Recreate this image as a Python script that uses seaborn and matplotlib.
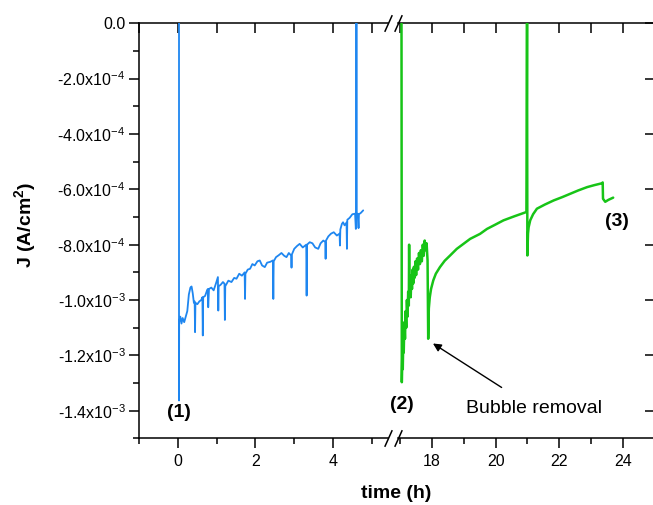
import matplotlib
matplotlib.use("Agg")
import matplotlib.pyplot as plt
from matplotlib.ticker import FixedLocator, NullFormatter
import seaborn as sns
import pandas as pd

# ---------------- data (J in A/cm^2, time in h) ----------------
blue_t = [0.026, 0.026, 0.03, 0.06, 0.09, 0.12, 0.16, 0.20, 0.24, 0.28,
          0.32, 0.35, 0.38, 0.41, 0.43, 0.44, 0.45, 0.50, 0.55, 0.60,
          0.63, 0.64, 0.65, 0.70, 0.75, 0.77, 0.78, 0.80, 0.86, 0.92,
          0.98, 1.03, 1.04, 1.05, 1.10, 1.16, 1.20, 1.21, 1.22, 1.30,
          1.38, 1.45, 1.51, 1.58, 1.65, 1.72, 1.73, 1.74, 1.80, 1.86,
          1.92, 1.98, 2.05, 2.11, 2.17, 2.24, 2.30, 2.38, 2.45, 2.46,
          2.47, 2.53, 2.60, 2.67, 2.74, 2.80, 2.86, 2.92, 2.93, 2.94,
          3.00, 3.07, 3.14, 3.22, 3.31, 3.32, 3.33, 3.40, 3.47, 3.54,
          3.62, 3.68, 3.75, 3.80, 3.81, 3.82, 3.88, 3.95, 4.02, 4.10,
          4.17, 4.18, 4.19, 4.23, 4.26, 4.30, 4.35, 4.36, 4.37, 4.43,
          4.50, 4.57, 4.59, 4.60, 4.605, 4.61, 4.64, 4.66, 4.67, 4.72,
          4.78]
blue_j = [0.02, -1.363, -1.080, -1.060, -1.085, -1.065, -1.080, -1.060, -1.040, -0.980,
          -0.955, -0.951, -0.975, -1.010, -1.005, -1.116, -1.010, -1.015, -1.005, -1.000,
          -0.990, -1.128, -0.990, -0.985, -0.965, -0.960, -1.026, -0.960, -0.955, -0.965,
          -0.940, -0.917, -1.038, -0.950, -0.945, -0.935, -0.941, -1.072, -0.950, -0.930,
          -0.935, -0.920, -0.923, -0.905, -0.912, -0.900, -0.996, -0.905, -0.890, -0.887,
          -0.870, -0.875, -0.860, -0.857, -0.875, -0.881, -0.865, -0.862, -0.857, -0.996,
          -0.860, -0.845, -0.838, -0.830, -0.840, -0.845, -0.830, -0.839, -0.883, -0.835,
          -0.815, -0.805, -0.797, -0.810, -0.800, -0.984, -0.800, -0.791, -0.795, -0.810,
          -0.815, -0.795, -0.785, -0.790, -0.851, -0.785, -0.770, -0.760, -0.755, -0.767,
          -0.760, -0.803, -0.745, -0.725, -0.719, -0.730, -0.720, -0.815, -0.710, -0.703,
          -0.690, -0.688, -0.743, -0.690, 0.02, -0.695, -0.688, -0.740, -0.690, -0.685,
          -0.676]

green_t = [17.04, 17.05, 17.07, 17.08, 17.10, 17.11, 17.13, 17.15, 17.17, 17.19,
           17.21, 17.23, 17.25, 17.27, 17.28, 17.29, 17.31, 17.33, 17.35, 17.37,
           17.39, 17.41, 17.43, 17.45, 17.48, 17.50, 17.53, 17.56, 17.59, 17.62,
           17.65, 17.68, 17.71, 17.74, 17.77, 17.80, 17.83, 17.86, 17.88, 17.90,
           17.93, 17.97, 18.04, 18.12, 18.25, 18.40, 18.57, 18.78, 18.99, 19.20,
           19.51, 19.73, 20.00, 20.25, 20.60, 20.97, 20.99, 21.00, 21.02, 21.04,
           21.09, 21.18, 21.30, 21.55, 21.83, 22.10, 22.35, 22.60, 22.88, 23.10,
           23.35, 23.37, 23.38, 23.45, 23.55, 23.70]
green_j = [0.02, -1.297, -1.170, -1.250, -1.120, -1.190, -1.080, -1.140, -1.040, -1.100,
           -1.000, -1.060, -0.970, -1.020, -0.800, -0.980, -0.930, -0.990, -0.910, -0.960,
           -0.890, -0.940, -0.880, -0.920, -0.860, -0.910, -0.850, -0.890, -0.830, -0.870,
           -0.820, -0.860, -0.800, -0.840, -0.785, -0.820, -0.795, -0.857, -1.140, -1.030,
           -0.990, -0.960, -0.929, -0.905, -0.881, -0.858, -0.839, -0.815, -0.797, -0.779,
           -0.761, -0.743, -0.727, -0.712, -0.697, -0.682, 0.02, -0.839, -0.760, -0.737,
           -0.712, -0.690, -0.670, -0.655, -0.640, -0.628, -0.616, -0.604, -0.592, -0.585,
           -0.578, -0.575, -0.634, -0.645, -0.638, -0.630]

y_ticks = [0.0, -2e-4, -4e-4, -6e-4, -8e-4, -1.0e-3, -1.2e-3, -1.4e-3]
y_labels = ["0.0", "-2.0x10$^{-4}$", "-4.0x10$^{-4}$", "-6.0x10$^{-4}$",
            "-8.0x10$^{-4}$", "-1.0x10$^{-3}$", "-1.2x10$^{-3}$", "-1.4x10$^{-3}$"]
y_minor = [-1e-4, -3e-4, -5e-4, -7e-4, -9e-4, -1.1e-3, -1.3e-3, -1.5e-3]
left_xticks = [0, 2, 4]
left_xminor = [-1, 1, 3, 5]
right_xticks = [18, 20, 22, 24]
right_xminor = [17, 19, 21, 23, 25]

blue_df = pd.DataFrame({"t": blue_t, "J": [v * 1e-3 for v in blue_j]})
green_df = pd.DataFrame({"t": green_t, "J": [v * 1e-3 for v in green_j]})

# ---------------- style ----------------
sns.set_theme(style="ticks")
plt.rcParams["font.family"] = ["Liberation Sans", "DejaVu Sans"]
plt.rcParams["mathtext.fontset"] = "custom"
plt.rcParams["mathtext.rm"] = "Liberation Sans"
plt.rcParams["mathtext.it"] = "Liberation Sans:italic"
plt.rcParams["mathtext.bf"] = "Liberation Sans:bold"
for key in ("text.color", "axes.labelcolor", "xtick.color", "ytick.color",
            "axes.edgecolor", "xtick.labelcolor", "ytick.labelcolor"):
    plt.rcParams[key] = "black"

BLUE = "#1E86F0"
GREEN = "#17C417"
W, H = 653, 505
top_px, bot_px = 23.3, 438.4

fig = plt.figure(figsize=(W / 100, H / 100), dpi=100)
ax1 = fig.add_axes([139.25 / W, (H - bot_px) / H, (388 - 139.25) / W, (bot_px - top_px) / H])
ax2 = fig.add_axes([398 / W, (H - bot_px) / H, (654.5 - 398) / W, (bot_px - top_px) / H])

sns.lineplot(data=blue_df, x="t", y="J", ax=ax1, color=BLUE, lw=1.3,
             sort=False, estimator=None)
sns.lineplot(data=green_df, x="t", y="J", ax=ax2, color=GREEN, lw=1.8,
             sort=False, estimator=None)

for ax in (ax1, ax2):
    ax.set_ylim(-1.5e-3, 0)
    ax.set_xlabel("")
    ax.set_ylabel("")
    for s in ax.spines.values():
        s.set_linewidth(1.1)
        s.set_color("black")

ax1.set_xlim(-1.0, 5.42)
ax2.set_xlim(16.93, 25)

ax1.spines["right"].set_visible(False)
ax2.spines["left"].set_visible(False)
ax2.spines["right"].set_visible(False)

# left y axis
ax1.set_yticks(y_ticks, labels=y_labels)
ax1.yaxis.set_minor_locator(FixedLocator(y_minor))
ax1.tick_params(axis="y", which="major", direction="out", length=7, width=1.1,
                labelsize=11.5, pad=3, colors="black")
ax1.tick_params(axis="y", which="minor", direction="out", length=4, width=1.1,
                colors="black")
ax2.tick_params(axis="y", which="both", left=False, labelleft=False)

# x axes
for ax, maj, mnr in ((ax1, left_xticks, left_xminor), (ax2, right_xticks, right_xminor)):
    ax.set_xticks(maj, labels=[str(v) for v in maj])
    ax.xaxis.set_minor_locator(FixedLocator(mnr))
    ax.tick_params(axis="x", which="major", direction="out", length=7, width=1.1,
                   labelsize=11.5, pad=4, colors="black")
    ax.tick_params(axis="x", which="minor", direction="out", length=4, width=1.1,
                   colors="black")
    sec = ax.secondary_xaxis("top")
    sec.set_xticks(maj)
    sec.xaxis.set_minor_locator(FixedLocator(mnr))
    sec.xaxis.set_major_formatter(NullFormatter())
    sec.tick_params(axis="x", which="both", direction="in", length=7, width=1.1,
                    colors="black")
    sec.spines["top"].set_linewidth(1.1)
    sec.spines["top"].set_color("black")
    ax.spines["top"].set_visible(False)

secy = ax2.secondary_yaxis("right")
secy.set_yticks(y_ticks)
secy.yaxis.set_major_formatter(NullFormatter())
secy.tick_params(axis="y", which="major", direction="in", length=7, width=1.1,
                 colors="black")
secy.spines["right"].set_linewidth(1.1)
secy.spines["right"].set_color("black")

# break marks
kw = dict(marker=[(-0.45, -1), (0.45, 1)], markersize=12, linestyle="none",
          color="black", mec="black", mew=1.1, clip_on=False)
ax1.plot([1, 1], [0, 1], transform=ax1.transAxes, **kw)
ax2.plot([0, 0], [0, 1], transform=ax2.transAxes, **kw)

# annotations
bold = dict(fontsize=14, fontweight="bold", ha="center", va="center", color="black")
ax1.text(0.03, -1.408e-3, "(1)", **bold)
ax2.text(17.06, -1.379e-3, "(2)", **bold)
ax2.text(23.82, -0.718e-3, "(3)", **bold)
ax2.annotate("Bubble removal", xy=(18.03, -1.157e-3), xytext=(21.21, -1.391e-3),
             fontsize=14, ha="center", va="center", color="black",
             arrowprops=dict(arrowstyle="-|>", color="black", lw=1.0,
                             shrinkA=12, shrinkB=0, mutation_scale=12))

fig.text(396.5 / W, 1 - 493 / H, "time (h)", fontsize=14, fontweight="bold",
         ha="center", va="center", color="black")
fig.text(25 / W, 1 - 225 / H, r"J (A/cm$^\mathbf{2}$)", fontsize=14,
         fontweight="bold", ha="center", va="center", rotation=90, color="black")

fig.savefig("out.png", dpi=100)
